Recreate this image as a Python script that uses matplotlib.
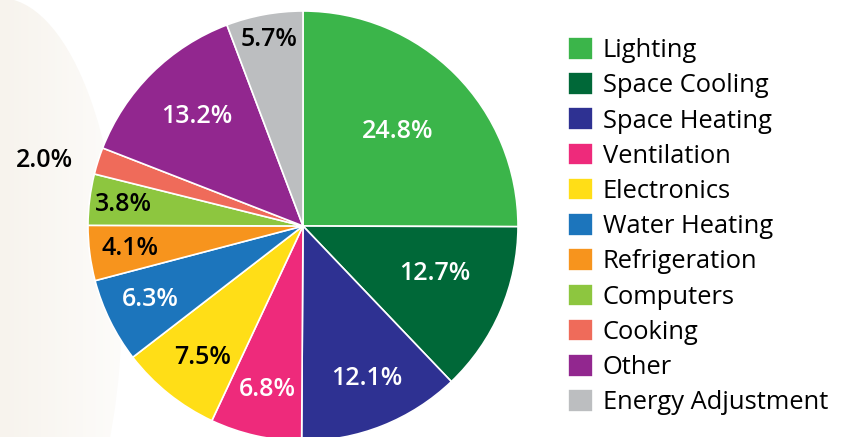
"""Energy end-use shares: pie with percentage labels and a square-swatch legend."""
import numpy as np
import matplotlib
matplotlib.use("Agg")
import matplotlib.pyplot as plt
from matplotlib.patches import Ellipse
from matplotlib.colors import to_rgb

categories = ["Lighting", "Space Cooling", "Space Heating", "Ventilation", "Electronics",
              "Water Heating", "Refrigeration", "Computers", "Cooking", "Other",
              "Energy Adjustment"]
shares = [24.8, 12.7, 12.1, 6.8, 7.5, 6.3, 4.1, 3.8, 2.0, 13.2, 5.7]
colors = ["#3bb54a", "#006838", "#2e3192", "#ee2a7b", "#ffde17", "#1c75bc",
          "#f7941d", "#8dc63f", "#ef6b5a", "#92278f", "#bcbec0"]
label_colors = ["white", "white", "white", "white", "black", "white",
                "black", "black", "black", "white", "black"]
# radial distance (fraction of radius) and angular nudge (deg) for each % label
label_dist = [0.62, 0.65, 0.77, 0.78, 0.77, 0.79, 0.81, 0.84, 1.24, 0.71, 0.88]
label_nudge = [0, 3.5, 1.2, 0.6, 1.2, -0.5, 0, 0.4, 3.4, -0.8, 0]

plt.rcParams["font.family"] = ["Open Sans", "DejaVu Sans"]

W, H = 848, 437
CX, CY, R = 303, H - 226, 215

fig = plt.figure(figsize=(W / 100, H / 100), dpi=100)
ax = fig.add_axes([0, 0, 1, 1])

# faint beige gradient blob on the left edge
c0, c1 = np.array(to_rgb("#f7f3ed")), np.array(to_rgb("#fdfcfa"))
t = np.linspace(0, 1, 256)[None, :, None]
grad = c0 + (c1 - c0) * t
im = ax.imshow(np.repeat(grad, 2, axis=0), extent=(0, 124, 0, H), aspect="auto", zorder=0)
blob = Ellipse((0, H - 305), 2 * 122, 2 * 307, transform=ax.transData, facecolor="none", edgecolor="none")
ax.add_patch(blob)
im.set_clip_path(blob)

wedges, _ = ax.pie(shares, colors=colors, startangle=90, counterclock=False,
                   center=(CX, CY), radius=R,
                   wedgeprops=dict(edgecolor="white", linewidth=1.2, zorder=2))

for w, pct, d, nudge, tc in zip(wedges, shares, label_dist, label_nudge, label_colors):
    ang = np.deg2rad((w.theta1 + w.theta2) / 2 + nudge)
    ax.text(CX + d * R * np.cos(ang), CY + d * R * np.sin(ang), f"{pct:.1f}%",
            ha="center", va="center", color=tc, fontsize=18, fontweight="semibold", zorder=3)

ax.legend(wedges, categories, loc="upper left", bbox_to_anchor=(568 / W, 1 - 37 / H),
          frameon=False, fontsize=18.4, handlelength=0.98, handleheight=0.98,
          handletextpad=0.38, labelspacing=0.36, borderaxespad=0, borderpad=0)

ax.set_xlim(0, W)
ax.set_ylim(0, H)
ax.set_aspect("equal")
ax.axis("off")

fig.savefig("out.png", dpi=100)
